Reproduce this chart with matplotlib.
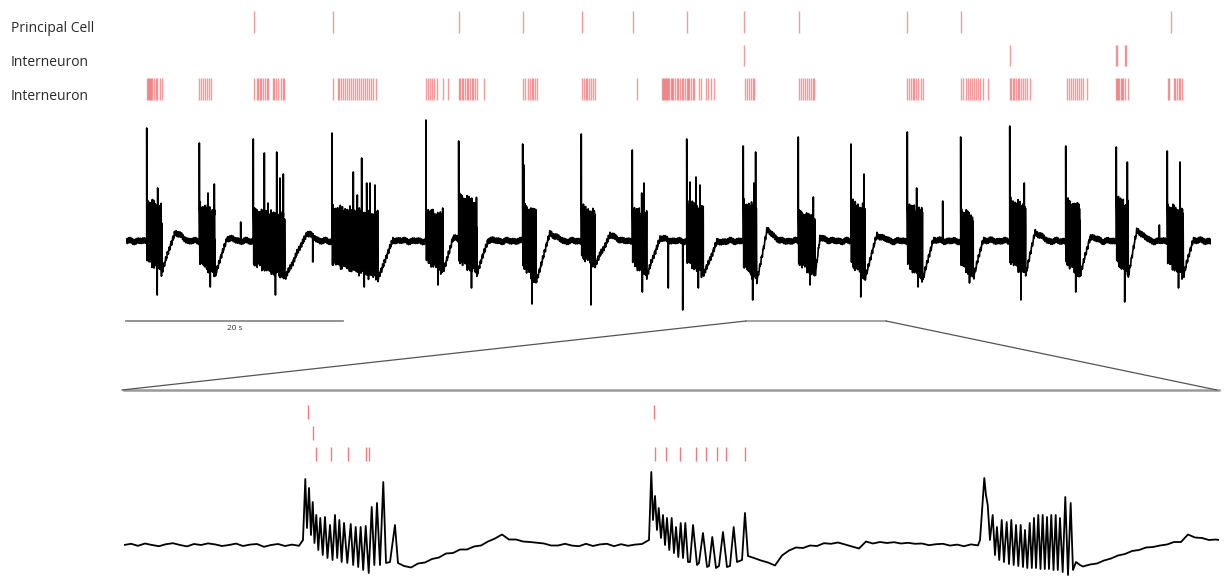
import numpy as np
import matplotlib
matplotlib.use("Agg")
import matplotlib.pyplot as plt
from matplotlib.patches import ConnectionPatch

plt.rcParams['font.family'] = ['Open Sans', 'DejaVu Sans']

# ---- overview: spike trains over 100 s ----
principal_spikes = [11.77, 19.05, 30.72, 36.62, 42.03, 46.70, 51.71, 56.93, 62.00,
                    72.01, 76.96, 96.29]
interneuron1_spikes = [56.99, 81.45, 91.20, 91.38, 92.03, 92.17]
interneuron2_spikes = [
    1.94, 2.03, 2.12, 2.21, 2.30, 2.40, 2.58, 2.74, 2.88, 3.11, 3.29,
    6.76, 6.91, 7.12, 7.31, 7.49, 7.68, 7.83,
    11.77, 12.05, 12.19, 12.32, 12.47, 12.63, 12.81, 12.97, 13.12, 13.52, 13.67, 13.82,
    14.04, 14.26, 14.44, 14.59,
    19.05, 19.51, 19.66, 19.84, 20.03, 20.21, 20.40, 20.58, 20.77, 20.95, 21.13, 21.32,
    21.50, 21.69, 21.87, 22.06, 22.24, 22.42, 22.61, 22.79, 23.01,
    27.68, 27.83, 28.02, 28.20, 28.39, 28.64, 29.19, 29.65,
    30.66, 30.81, 30.94, 31.09, 31.24, 31.40, 31.55, 31.71, 31.86, 32.01, 32.17, 32.32, 32.97,
    36.59, 36.77, 37.08, 37.24, 37.39, 37.54, 37.70, 37.85,
    42.00, 42.21, 42.37, 42.52, 42.67, 42.86, 43.07, 43.25,
    47.12,
    49.40, 49.49, 49.59, 49.68, 49.77, 49.86, 49.95, 50.08, 50.20, 50.32, 50.44, 50.60,
    50.76, 50.90, 51.06, 51.22, 51.36, 51.52, 51.68, 51.80, 51.92, 52.07, 52.23, 52.38,
    52.81, 52.99, 53.46, 53.67, 53.89, 54.17,
    57.02, 57.21, 57.39, 57.58, 57.76, 57.88,
    62.00, 62.18, 62.37, 62.55, 62.74, 62.92, 63.11, 63.29, 63.41,
    71.98, 72.17, 72.35, 72.51, 72.65, 72.81, 73.02, 73.24, 73.48,
    76.99, 77.17, 77.42, 77.60, 77.79, 77.97, 78.16, 78.34, 78.55, 78.74, 78.99, 79.42,
    81.47, 81.59, 81.72, 81.87, 82.03, 82.18, 82.33, 82.49, 82.64, 82.86, 83.07, 83.32,
    86.73, 86.91, 87.10, 87.28, 87.47, 87.65, 87.83, 88.02, 88.23, 88.60,
    91.27, 91.36, 91.46, 91.55, 91.68, 91.80, 91.92, 92.10, 92.32,
    96.04, 96.16, 96.59, 96.71, 96.87, 97.02, 97.17, 97.33,
]
row_labels = ['Principal Cell', 'Interneuron', 'Interneuron']

# ---- overview: field potential bursts (s, mV) ----
burst_on = [1.91, 6.76, 11.73, 18.99, 27.65, 30.66, 36.56, 41.96, 46.66, 51.68,
            56.89, 61.96, 66.82, 72.01, 76.93, 81.45, 86.61, 91.27, 95.97]
burst_off = [3.29, 8.20, 14.65, 23.23, 29.22, 32.35, 37.79, 43.23, 47.99, 53.21,
             58.13, 63.50, 68.11, 73.43, 78.09, 82.92, 87.93, 92.38, 97.45]
burst_lead = [1.13, 0.98, 1.02, 1.08, 1.21, 1.00, 0.97, 1.07, 0.91, 1.02,
              0.95, 1.04, 0.97, 1.09, 1.04, 1.15, 0.95, 0.94, 0.90]
burst_top = [0.41, 0.36, 0.31, 0.33, 0.31, 0.46, 0.36, 0.34, 0.33, 0.39,
             0.39, 0.29, 0.39, 0.36, 0.31, 0.41, 0.41, 0.43, 0.36]
burst_low = [-0.31, -0.35, -0.37, -0.37, -0.31, -0.33, -0.41, -0.24, -0.35, -0.34,
             -0.41, -0.35, -0.37, -0.39, -0.37, -0.34, -0.35, -0.34, -0.35]
burst_min = [-0.54, -0.46, -0.54, -0.46, -0.44, -0.47, -0.63, -0.64, -0.51, -0.47,
             -0.59, -0.44, -0.56, -0.46, -0.42, -0.59, -0.51, -0.61, -0.47]
recovery_t = [4.52, 9.31, 16.68, 24.61, 30.14, 33.36, 39.08, 44.61, 49.22, 54.47,
              59.08, 63.96, 69.21, 74.38, 78.99, 83.78, 88.85, 93.18, 98.34]
recovery_hump = [0.09, 0.03, 0.08, 0.01, 0.03, 0.01, 0.08, 0.06, 0.03, -0.01,
                 0.11, 0.03, 0.06, 0.01, 0.01, 0.09, 0.04, 0.11, 0.01]

# tall population spikes riding on the bursts and a few isolated events
spike_t = [2.92, 7.56, 8.14, 12.75, 13.09, 13.89, 14.19, 14.50,
           20.95, 21.32, 21.72, 22.18, 22.49, 22.95, 28.32, 28.78, 29.19,
           32.23, 36.68, 47.53, 47.74, 51.98, 52.53, 52.90, 57.87, 58.03,
           63.35, 68.02, 72.87, 73.33, 82.79, 92.29, 97.14,
           10.57, 75.27, 95.24]
spike_v = [0.53, 0.48, 0.57, 0.88, 0.38, 0.89, 0.63, 0.67,
           0.69, 0.46, 0.83, 0.58, 0.58, 0.56, 0.29, 0.26, 0.33,
           0.31, 0.76, 0.48, 0.58, 0.59, 0.64, 0.56, 0.58, 0.89,
           0.44, 0.67, 0.53, 0.28, 0.58, 0.79, 0.79,
           0.19, 0.40, 0.16]
dip_t = [49.98, 51.31, 17.21]
dip_v = [-0.47, -0.69, -0.21]

# zoom window on the overview (s)
zoom_window = [57.14, 70.05]

# ---- expanded view: spike trains (s from window start) ----
zoom_principal = [2.633, 7.567]
zoom_interneuron1 = [2.700]
zoom_interneuron2 = [2.743, 2.957, 3.204, 3.464, 3.493,
                     7.590, 7.747, 7.943, 8.176, 8.321, 8.471, 8.607, 8.876]

# ---- expanded view: field potential (mV) ----
# quiet stretches, sampled every 0.1 s
quiet_start = [0.0, 4.0, 9.0, 13.7]
quiet_v = [
    [0.00, 0.012, -0.008, 0.015, 0.00, -0.012, 0.008, 0.018, 0.00, -0.014, 0.01, 0.00,
     0.016, 0.006, -0.01, 0.00, 0.014, -0.01, 0.004, 0.01, -0.018, 0.00, 0.01, -0.01,
     0.004, -0.008],
    [-0.21, -0.225, -0.185, -0.175, -0.14, -0.125, -0.085, -0.08, -0.045, -0.045, -0.015,
     -0.005, 0.035, 0.065, 0.105, 0.055, 0.055, 0.035, 0.03, 0.022, 0.015, -0.005, -0.005,
     0.012, -0.006, -0.012, 0.012, -0.01, 0.006, 0.012, -0.012, 0.008, -0.008, 0.004, 0.01],
    [-0.13, -0.155, -0.175, -0.205, -0.105, -0.055, -0.025, -0.03, -0.005, -0.01, 0.018,
     0.012, 0.025, 0.005, -0.015, -0.035, 0.035, 0.015, 0.03, 0.02, 0.028, 0.015, 0.022,
     0.012, 0.015, -0.002, 0.008, 0.012, -0.006, 0.004, -0.012, 0.006, -0.004],
    [-0.215, -0.195, -0.185, -0.155, -0.135, -0.105, -0.09, -0.06, -0.05, -0.025, -0.02,
     -0.005, 0.005, 0.03, 0.03, 0.105, 0.075, 0.07, 0.05, 0.055],
]
# bursts, read peak by peak
zoom_burst_t = [
    [2.557, 2.590, 2.614, 2.643, 2.671, 2.696, 2.721, 2.747, 2.776, 2.804, 2.839, 2.871,
     2.907, 2.943, 2.979, 3.014, 3.046, 3.076, 3.109, 3.143, 3.190, 3.239, 3.274, 3.310,
     3.346, 3.381, 3.417, 3.453, 3.496, 3.539, 3.576, 3.614, 3.657, 3.704, 3.743, 3.800,
     3.871, 3.914],
    [7.500, 7.533, 7.557, 7.586, 7.614, 7.639, 7.671, 7.700, 7.729, 7.757, 7.790, 7.824,
     7.857, 7.886, 7.919, 7.953, 7.986, 8.019, 8.057, 8.086, 8.129, 8.186, 8.214, 8.271,
     8.329, 8.357, 8.404, 8.457, 8.500, 8.557, 8.614, 8.657, 8.710, 8.757, 8.829, 8.871,
     8.914],
    [12.229, 12.290, 12.314, 12.339, 12.371, 12.410, 12.443, 12.471, 12.504, 12.539,
     12.571, 12.610, 12.643, 12.676, 12.710, 12.743, 12.776, 12.810, 12.843, 12.871,
     12.904, 12.939, 12.969, 13.000, 13.029, 13.061, 13.093, 13.124, 13.154, 13.186,
     13.214, 13.247, 13.279, 13.310, 13.340, 13.371, 13.410, 13.447, 13.486, 13.524,
     13.557, 13.600, 13.657],
]
zoom_burst_v = [
    [0.05, 0.66, 0.17, 0.57, 0.10, 0.43, 0.02, 0.30, -0.05, 0.27, -0.10, 0.28,
     -0.13, 0.20, -0.15, 0.30, -0.13, 0.25, -0.17, 0.22, -0.18, 0.21, -0.20, 0.18,
     -0.22, 0.18, -0.25, 0.19, -0.28, 0.38, -0.20, 0.42, -0.20, 0.63, -0.18, -0.17,
     0.20, -0.18],
    [0.05, 0.73, 0.25, 0.49, 0.15, 0.37, 0.07, 0.30, 0.00, 0.27, -0.05, 0.27,
     -0.08, 0.18, -0.12, 0.22, -0.13, 0.22, -0.17, -0.17, 0.20, -0.20, -0.18, 0.12,
     -0.22, -0.21, 0.08, -0.23, -0.21, 0.13, -0.22, -0.21, 0.18, -0.17, -0.15, 0.32,
     -0.11],
    [0.05, 0.67, 0.50, 0.40, 0.05, 0.30, -0.10, 0.18, -0.15, 0.25,
     -0.17, 0.23, -0.19, 0.25, -0.20, 0.20, -0.21, 0.20, -0.22, 0.15,
     -0.23, 0.22, -0.23, 0.27, -0.23, 0.30, -0.24, 0.30, -0.24, 0.28,
     -0.24, 0.30, -0.25, 0.30, -0.25, 0.27, -0.27, 0.48, -0.30, 0.42,
     -0.25, -0.17, -0.20],
]
zoom_tail_t = [15.64]
zoom_tail_v = [0.05]

RED = '#e3242b'
W, H = 1227, 578


def build_lfp(fs=500.0, duration=100.0, osc_hz=16.0):
    t = np.arange(0, duration, 1 / fs)
    v = np.zeros_like(t)
    # slow return to baseline after each burst
    for off, low, rec, hump in zip(burst_off, burst_low, recovery_t, recovery_hump):
        m = (t >= off) & (t < rec)
        v[m] = low + (hump - low) * (t[m] - off) / (rec - off)
        m = (t >= rec) & (t < rec + 1.2)
        v[m] = hump * (1 - (t[m] - rec) / 1.2)
    # recording noise on the field potential
    v += (0.018 * np.sin(2 * np.pi * 6.1 * t) + 0.013 * np.sin(2 * np.pi * 13.7 * t + 1.0)
          + 0.006 * np.sin(2 * np.pi * 0.83 * t + 0.4))
    # dense oscillatory block of each burst
    for on, off, top, low, vmin in zip(burst_on, burst_off, burst_top, burst_low, burst_min):
        m = (t >= on) & (t < off)
        tt = t[m] - on
        frac = tt / (off - on)
        upper = top - 0.06 * frac
        lower = 0.6 * low + 0.4 * low * frac
        mid = 0.5 * (upper + lower)
        half = 0.5 * (upper - lower)
        gain = 0.9 + 0.12 * np.sin(2 * np.pi * 2.9 * tt + on) * np.sin(2 * np.pi * 1.7 * tt)
        s = np.sin(2 * np.pi * osc_hz * tt)
        v[m] = (mid + half * gain * np.sign(s) * np.abs(s) ** 0.6
                + 0.04 * np.sin(2 * np.pi * 41.0 * tt))
        v[np.argmin(abs(t - (on + 0.7 * (off - on))))] = vmin
    for on, lead in zip(burst_on, burst_lead):
        v[np.argmin(abs(t - on))] = lead
    for st, sv in zip(spike_t, spike_v):
        v[np.argmin(abs(t - st))] = sv
    for dt_, dv in zip(dip_t, dip_v):
        v[np.argmin(abs(t - dt_))] = dv
    return t, v


def zoom_trace():
    parts_t, parts_v = [], []
    for i, (t0, vals) in enumerate(zip(quiet_start, quiet_v)):
        parts_t.append(t0 + 0.1 * np.arange(len(vals)))
        parts_v.append(np.array(vals))
        if i < len(zoom_burst_t):
            parts_t.append(np.array(zoom_burst_t[i]))
            parts_v.append(np.array(zoom_burst_v[i]))
    parts_t.append(np.array(zoom_tail_t))
    parts_v.append(np.array(zoom_tail_v))
    return np.concatenate(parts_t), np.concatenate(parts_v)


def add_axes_px(left, top, right, bottom):
    ax = fig.add_axes([left / W, 1 - bottom / H, (right - left) / W, (bottom - top) / H])
    ax.set_axis_off()
    return ax


fig = plt.figure(figsize=(W / 100, H / 100), dpi=100)

# overview raster
ax_r = add_axes_px(126, 5, 1211, 105)
ax_r.eventplot([principal_spikes, interneuron1_spikes, interneuron2_spikes],
               lineoffsets=[0, 1, 2], linelengths=0.64, linewidths=1.0,
               colors=RED, alpha=0.45)
ax_r.set_xlim(0, 100)
ax_r.set_ylim(2.478, -0.507)
for y_px, label in zip([29, 62, 97], row_labels):
    fig.text(11 / W, 1 - y_px / H, label, ha='left', va='center',
             fontsize=10, color='#2a2a2a')

# overview field potential
ax_l = add_axes_px(126, 105, 1211, 325)
lfp_t, lfp_v = build_lfp()
ax_l.plot(lfp_t, lfp_v, color='black', lw=1.2, solid_joinstyle='round')
ax_l.set_xlim(0, 100)
ax_l.set_ylim(-0.84, 1.36)

# 20 s scale bar and zoom window marker
ax_l.plot([0, 20], [-0.80, -0.80], color='#8a8a8a', lw=1.3, clip_on=False)
ax_l.text(10, -0.835, '20 s', ha='center', va='top', fontsize=6, color='#333333')
ax_l.plot(zoom_window, [-0.80, -0.80], color='#8a8a8a', lw=1.1, clip_on=False)

# expanded raster
ax_zr = fig.add_axes([124 / W, 1 - 466 / H, 1095 / W, 76 / H])
ax_zr.eventplot([zoom_principal, zoom_interneuron1, zoom_interneuron2],
                lineoffsets=[0, 1, 2], linelengths=0.66, linewidths=1.0,
                colors=RED, alpha=0.6)
ax_zr.set_xlim(0, 15.643)
ax_zr.set_ylim(2.571, -1.048)
ax_zr.set_xticks([])
ax_zr.set_yticks([])
for side in ['left', 'right', 'bottom']:
    ax_zr.spines[side].set_visible(False)
ax_zr.spines['top'].set_color('#9a9a9a')
ax_zr.spines['top'].set_linewidth(1.8)

for xa, xb in [(zoom_window[0], -0.002), (zoom_window[1], 0.998)]:
    con = ConnectionPatch(xyA=(xa, -0.80), coordsA=ax_l.transData,
                          xyB=(xb, 1.0), coordsB=ax_zr.transAxes,
                          color='#555555', lw=0.9)
    fig.add_artist(con)

# expanded field potential
ax_zt = add_axes_px(124, 466, 1219, 578)
zt, zv = zoom_trace()
ax_zt.plot(zt, zv, color='black', lw=1.3)
ax_zt.set_xlim(0, 15.643)
ax_zt.set_ylim(-0.33, 0.79)

fig.savefig('out.png', dpi=100)
